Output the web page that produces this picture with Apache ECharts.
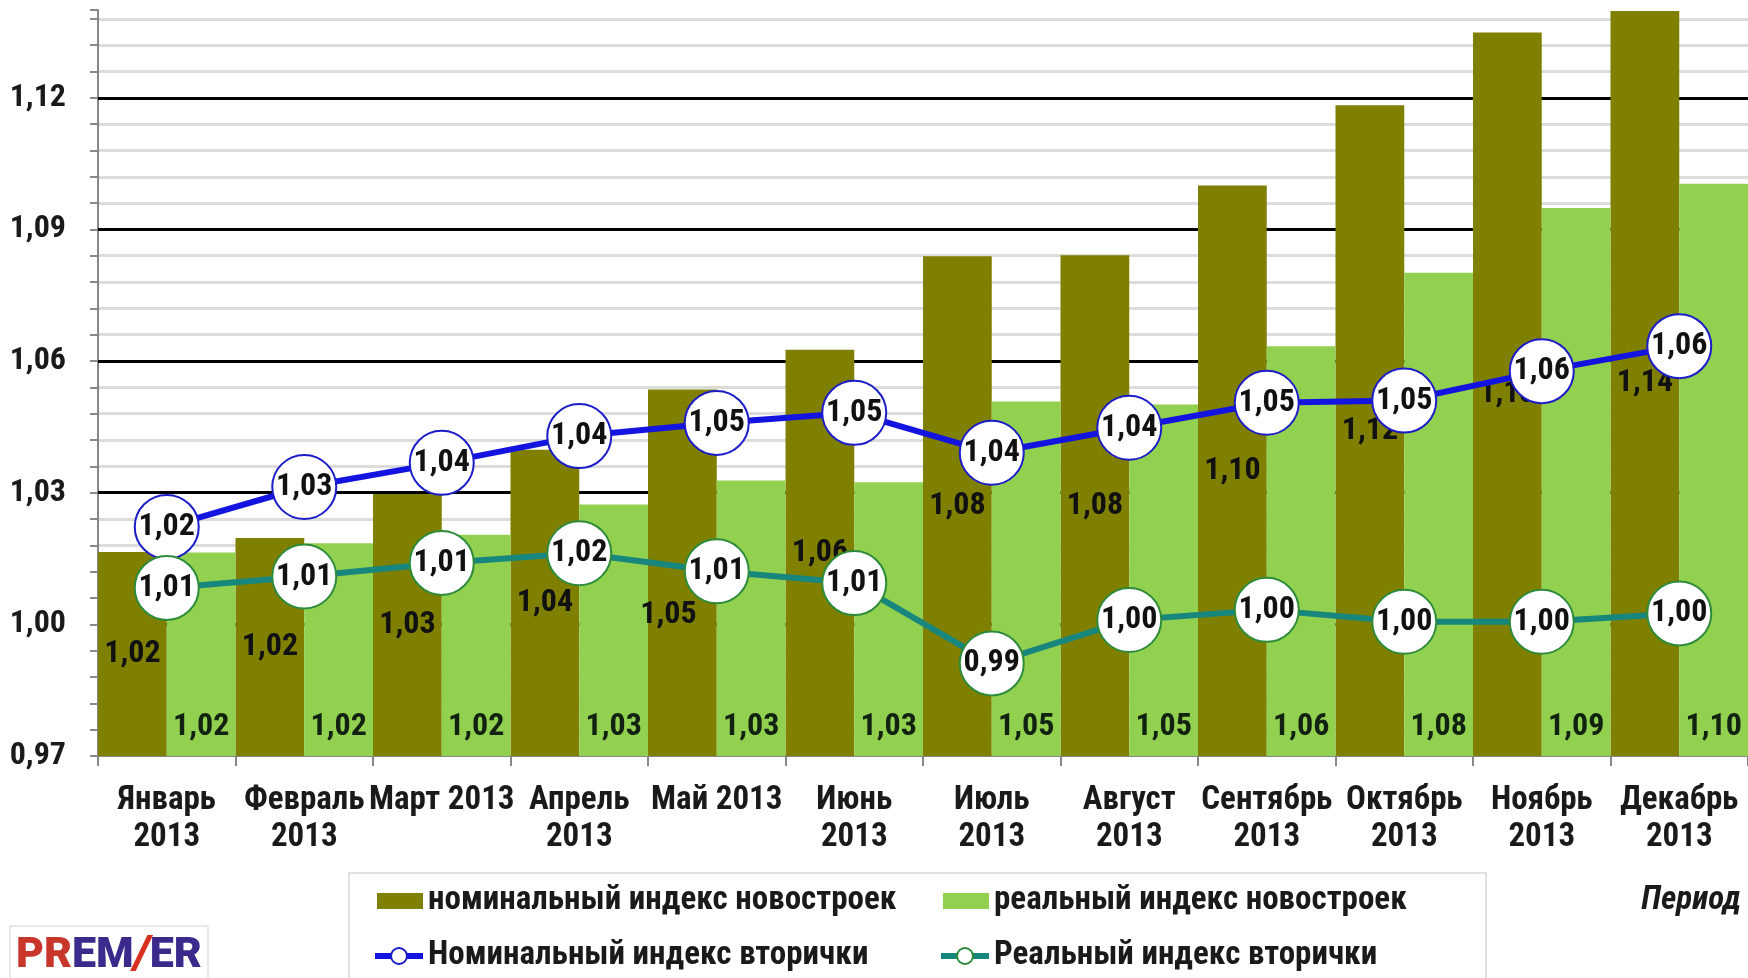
<!DOCTYPE html>
<html>
<head>
<meta charset="utf-8">
<script src="https://cdn.jsdelivr.net/npm/echarts@6/dist/echarts.min.js"></script>
<style>
  html, body { margin: 0; padding: 0; background: #fff; }
  #chart { width: 1748px; height: 978px; }
</style>
</head>
<body>
<div id="chart"></div>
<script>
// данные по месяцам 2013
const months = ['Январь\n2013', 'Февраль\n2013', 'Март 2013', 'Апрель\n2013', 'Май 2013', 'Июнь\n2013',
  'Июль\n2013', 'Август\n2013', 'Сентябрь\n2013', 'Октябрь\n2013', 'Ноябрь\n2013', 'Декабрь\n2013']
const nominalNew = [1.0165, 1.0197, 1.0297, 1.0398, 1.0535, 1.0626, 1.0839, 1.0841, 1.1000, 1.1183, 1.1349, 1.1398]
const realNew = [1.0164, 1.0185, 1.0204, 1.0273, 1.0328, 1.0324, 1.0508, 1.0501, 1.0634, 1.0801, 1.0949, 1.1004]
const nominalSec = [1.0222, 1.0313, 1.0368, 1.0429, 1.0459, 1.0482, 1.0391, 1.0448, 1.0505, 1.0510, 1.0577, 1.0634]
const realSec = [1.0083, 1.0109, 1.0140, 1.0162, 1.0121, 1.0094, 0.9911, 1.0010, 1.0033, 1.0006, 1.0006, 1.0025]
const yMin = 0.97
const yMax = 1.14
const yStep = 0.03
const yMinorStep = 0.006

const FONT = "'Roboto Condensed', Roboto, 'Liberation Sans', sans-serif"
const fmt = (v) => v.toFixed(2).replace('.', ',')

const chart = echarts.init(document.getElementById('chart'))

const lineLabel = {
  show: true,
  position: 'inside',
  formatter: (p) => fmt(p.value),
  color: '#111',
  fontFamily: FONT,
  fontWeight: 'bold',
  fontSize: 32,
}

const legendText = { color: '#1a1a1a', fontFamily: FONT, fontWeight: 'bold', fontSize: 33, lineHeight: 36 }

// подпись мая на графике сдвинута, чтобы не закрывалась кружком
const nominalNewData = nominalNew.map((v, i) => (i === 4 ? { value: v, label: { offset: [-14, 42] } } : v))

chart.setOption({
  backgroundColor: '#fff',
  animation: false,
  grid: { left: 98, right: 0, top: 10, bottom: 222, containLabel: false },
  xAxis: {
    type: 'category',
    data: months,
    axisLine: { lineStyle: { color: '#888', width: 2 } },
    axisTick: { show: true, length: 10, lineStyle: { color: '#888', width: 2 } },
    axisLabel: {
      interval: 0,
      margin: 26,
      color: '#1a1a1a',
      fontFamily: FONT,
      fontWeight: 'bold',
      fontSize: 33,
      lineHeight: 37,
    },
  },
  yAxis: [
    {
      // основная шкала: подписи и чёрные линии
      type: 'value',
      min: yMin,
      max: yMax,
      interval: yStep,
      startValue: yMin,
      z: 1,
      axisLine: { show: false },
      axisTick: { show: false },
      axisLabel: {
        margin: 32,
        color: '#1a1a1a',
        fontFamily: FONT,
        fontWeight: 'bold',
        fontSize: 32,
        formatter: (v) => (v > 1.125 ? '' : fmt(v)),
      },
      splitLine: { show: true, showMinLine: false, showMaxLine: false, lineStyle: { color: '#000', width: 3 } },
    },
    {
      // вспомогательная шкала: серые линии
      type: 'value',
      min: yMin,
      max: yMax,
      interval: yMinorStep,
      z: 0,
      position: 'left',
      axisLine: { show: true, lineStyle: { color: '#888', width: 2 } },
      axisTick: { show: true, length: 8, lineStyle: { color: '#888', width: 2 } },
      axisLabel: { show: false },
      splitLine: { show: true, showMinLine: false, showMaxLine: false, lineStyle: { color: '#dcdcdc', width: 3 } },
    },
  ],
  legend: [
    {
      data: ['номинальный индекс новостроек'],
      left: 377, top: 883, padding: 0,
      icon: 'rect', itemWidth: 46, itemHeight: 16,
      textStyle: legendText,
    },
    {
      data: ['реальный индекс новостроек'],
      left: 943, top: 883, padding: 0,
      icon: 'rect', itemWidth: 46, itemHeight: 16,
      textStyle: legendText,
    },
    {
      data: ['Номинальный индекс вторички'],
      left: 372, top: 938, padding: 0,
      itemWidth: 48, itemHeight: 20,
      lineStyle: { width: 6 },
      textStyle: legendText,
    },
    {
      data: ['Реальный индекс вторички'],
      left: 938, top: 938, padding: 0,
      itemWidth: 48, itemHeight: 20,
      lineStyle: { width: 6 },
      textStyle: legendText,
    },
  ],
  series: [
    {
      name: 'номинальный индекс новостроек',
      type: 'bar',
      data: nominalNewData,
      barGap: '0%',
      barCategoryGap: '0%',
      itemStyle: { color: '#7f7f00' },
      label: {
        show: true, position: 'inside', formatter: (p) => fmt(p.value),
        color: '#111', fontFamily: FONT, fontWeight: 'bold', fontSize: 32,
      },
    },
    {
      name: 'реальный индекс новостроек',
      type: 'bar',
      data: realNew,
      barGap: '0%',
      barCategoryGap: '0%',
      itemStyle: { color: '#92d050' },
      label: {
        show: true, position: 'insideBottom', distance: 13, formatter: (p) => fmt(p.value),
        color: '#112211', fontFamily: FONT, fontWeight: 'bold', fontSize: 32,
      },
    },
    {
      name: 'Номинальный индекс вторички',
      type: 'line',
      data: nominalSec,
      z: 5,
      symbol: 'circle',
      symbolSize: 64,
      lineStyle: { color: '#1414e0', width: 6 },
      itemStyle: { color: '#fff', borderColor: '#1c1cc8', borderWidth: 2 },
      label: lineLabel,
    },
    {
      name: 'Реальный индекс вторички',
      type: 'line',
      data: realSec,
      z: 5,
      symbol: 'circle',
      symbolSize: 64,
      lineStyle: { color: '#17867c', width: 6 },
      itemStyle: { color: '#fff', borderColor: '#2e8b3a', borderWidth: 2 },
      label: lineLabel,
    },
  ],
  graphic: [
    {
      type: 'rect', z: -1,
      shape: { x: 349, y: 873, width: 1137, height: 140 },
      style: { fill: 'none', stroke: '#d8d8d8', lineWidth: 1.5 },
    },
    {
      type: 'text',
      style: {
        text: 'Период', x: 1741, y: 901, align: 'right', verticalAlign: 'middle',
        font: 'italic bold 33px ' + FONT, fill: '#1a1a1a',
      },
    },
    {
      type: 'rect',
      shape: { x: 10, y: 926, width: 198, height: 60 },
      style: { fill: '#fff', stroke: '#e2e2e2', lineWidth: 1.5 },
    },
    {
      type: 'text',
      style: {
        text: '{a|PR}{b|EM}{c|/}{b|ER}', x: 16, y: 956, verticalAlign: 'middle',
        rich: {
          a: { fill: '#c8352a', font: "900 43px Roboto, 'Liberation Sans'" },
          b: { fill: '#3b2a8c', font: "900 43px Roboto, 'Liberation Sans'" },
          c: { fill: '#d8301e', font: "italic 900 47px Roboto, 'Liberation Sans'" },
        },
      },
    },
  ],
})
</script>
</body>
</html>
